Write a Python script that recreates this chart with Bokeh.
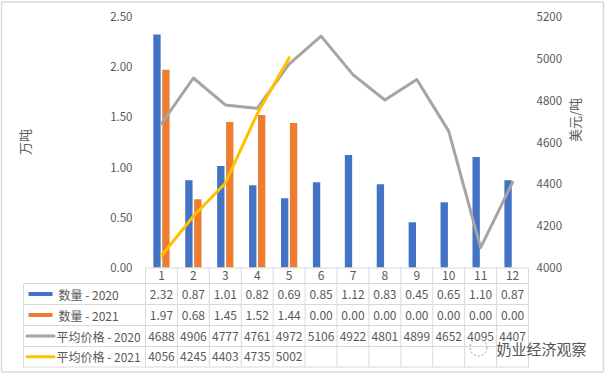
from bokeh.plotting import figure
from bokeh.models import Range1d, LinearAxis, FixedTicker, NumeralTickFormatter, ColumnDataSource
from bokeh.embed import file_html
from bokeh.resources import INLINE
from bokeh.core.properties import value
from bokeh.transform import dodge

# ---------------- data ----------------
months = [1, 2, 3, 4, 5, 6, 7, 8, 9, 10, 11, 12]
month_labels = ["1", "2", "3", "4", "5", "6", "7", "8", "9", "10", "11", "12"]
qty_2020 = [2.32, 0.87, 1.01, 0.82, 0.69, 0.85, 1.12, 0.83, 0.45, 0.65, 1.10, 0.87]
qty_2021 = [1.97, 0.68, 1.45, 1.52, 1.44, 0.00, 0.00, 0.00, 0.00, 0.00, 0.00, 0.00]
price_2020 = [4688, 4906, 4777, 4761, 4972, 5106, 4922, 4801, 4899, 4652, 4095, 4407]
price_2021 = [4056, 4245, 4403, 4735, 5002]
series_names = ["数量 - 2020", "数量 - 2021", "平均价格 - 2020", "平均价格 - 2021"]
left_ticks = [0.0, 0.5, 1.0, 1.5, 2.0, 2.5]
right_ticks = [4000, 4200, 4400, 4600, 4800, 5000, 5200]
left_title = "万吨"
right_title = "美元/吨"
watermark = "奶业经济观察"

# ---------------- styles / layout (page pixels) ----------------
BLUE, ORANGE, GRAY, YELLOW = "#4472C4", "#ED7D31", "#A5A5A5", "#FFC000"
TXT = "#595959"
GRID = "#D9D9D9"
FONT_NAME = "Noto Sans CJK SC"
FONT = value(FONT_NAME)
FIG_L, FIG_R, FIG_T, FIG_B = 0, 606, 0, 374
PL, PR, PT, PB = 145, 528, 16, 267       # plot area
CW = (PR - PL) / 12.0


def bx(page_x):
    return 0.5 + (page_x - PL) / CW

lpp = 2.5 / (PB - PT)          # left-axis units per pixel
rpp = 1200.0 / (PB - PT)       # right-axis units per pixel

p = figure(width=FIG_R - FIG_L, height=FIG_B - FIG_T,
           x_range=Range1d(bx(FIG_L), bx(FIG_R)),
           y_range=Range1d(0 - (FIG_B - PB) * lpp, 2.5 + (PT - FIG_T) * lpp),
           output_backend="svg", toolbar_location=None,
           x_axis_location=None, y_axis_location=None,
           min_border=0, outline_line_color=None)
p.grid.visible = False
p.extra_y_ranges = {
    "price": Range1d(4000 - (FIG_B - PB) * rpp, 5200 + (PT - FIG_T) * rpp),
    "tbl": Range1d(FIG_B, FIG_T),
}
p.extra_x_ranges = {"px": Range1d(FIG_L, FIG_R)}

ya = LinearAxis(fixed_location=0.5, ticker=FixedTicker(ticks=left_ticks),
                formatter=NumeralTickFormatter(format="0.00"), axis_label=left_title,
                bounds=(left_ticks[0], left_ticks[-1]))
ya2 = LinearAxis(y_range_name="price", fixed_location=12.5,
                 ticker=FixedTicker(ticks=right_ticks), axis_label=right_title,
                 bounds=(right_ticks[0], right_ticks[-1]))
p.add_layout(ya, "left")
p.add_layout(ya2, "right")

for ax, st, lst in [(ya, 13, 73), (ya2, 8, 9)]:
    ax.axis_line_color = None
    ax.major_tick_line_color = None
    ax.minor_tick_line_color = None
    ax.major_tick_out = 0
    ax.major_tick_in = 0
    ax.major_label_standoff = st
    ax.axis_label_standoff = lst
    ax.major_label_text_font = FONT_NAME
    ax.major_label_text_font_size = "11.5px"
    ax.major_label_text_color = TXT
    ax.axis_label_text_font = FONT_NAME
    ax.axis_label_text_font_size = "13px"
    ax.axis_label_text_font_style = "normal"
    ax.axis_label_text_color = TXT
ya2.axis_label_orientation = 1.5707963

# ---------------- outer chart border ----------------
p.segment(x0=[1, 1, 1, 603], y0=[1.5, 371.5, 1.5, 1.5], x1=[603, 603, 1, 603],
          y1=[1.5, 371.5, 371.5, 371.5], line_color=GRID, line_width=1.5,
          x_range_name="px", y_range_name="tbl")

# ---------------- bars and lines ----------------
src = ColumnDataSource(dict(m=months, q20=qty_2020, q21=qty_2021))
p.vbar(x=dodge("m", -0.14, range=p.x_range), top="q20", bottom=0, width=0.23, source=src,
       fill_color=BLUE, line_color=None)
p.vbar(x=dodge("m", 0.14, range=p.x_range), top="q21", bottom=0, width=0.23, source=src,
       fill_color=ORANGE, line_color=None)
p.line(months, price_2020, y_range_name="price", line_color=GRAY, line_width=3,
       line_join="round", line_cap="round")
p.line(months[:len(price_2021)], price_2021, y_range_name="price", line_color=YELLOW,
       line_width=3, line_join="round", line_cap="round")

# ---------------- data table (page-pixel ranges) ----------------
row_edges = [283, 304, 325, 346, 366.5]
col_edges = [PL + i * CW for i in range(13)]
TL = 23

hx0 = [PL] + [TL] * len(row_edges)
hx1 = [PR] * (len(row_edges) + 1)
hy = [PB + 0.5] + row_edges
p.segment(x0=hx0, y0=hy, x1=hx1, y1=hy, line_color=GRID, line_width=1,
          x_range_name="px", y_range_name="tbl")
vx = [TL] + col_edges
vy0 = [row_edges[0]] + [PB] * len(col_edges)
vy1 = [row_edges[-1]] * len(vx)
p.segment(x0=vx, y0=vy0, x1=vx, y1=vy1, line_color=GRID, line_width=1,
          x_range_name="px", y_range_name="tbl")

p.text(x=months, y=[(PB + row_edges[0]) / 2] * 12, text=month_labels, y_range_name="tbl",
       text_align="center", text_baseline="middle",
       text_font=FONT, text_font_size="12px", text_color=TXT)

rows = [
    [f"{v:.2f}" for v in qty_2020],
    [f"{v:.2f}" for v in qty_2021],
    [str(v) for v in price_2020],
    [str(v) for v in price_2021],
]
row_centers = [(row_edges[i] + row_edges[i + 1]) / 2 for i in range(4)]
for r, vals in enumerate(rows):
    p.text(x=months[:len(vals)], y=[row_centers[r]] * len(vals), text=vals, y_range_name="tbl",
           text_align="center", text_baseline="middle", text_font=FONT,
           text_font_size="12px", text_color=TXT)

key_colors = [BLUE, ORANGE, GRAY, YELLOW]
for r in range(4):
    yc = row_centers[r]
    if r < 2:
        p.segment(x0=[28], y0=[yc], x1=[52], y1=[yc], line_color=key_colors[r],
                  line_width=4, line_cap="butt", x_range_name="px", y_range_name="tbl")
        tx = 58
    else:
        p.segment(x0=[26.5], y0=[yc], x1=[53.5], y1=[yc], line_color=key_colors[r],
                  line_width=3, line_cap="round", x_range_name="px", y_range_name="tbl")
        tx = 56
    p.text(x=[tx], y=[yc], text=[series_names[r]], x_range_name="px", y_range_name="tbl",
           text_align="left", text_baseline="middle",
           text_font=FONT, text_font_size="12px", text_color=TXT)

# watermark
p.scatter(x=[478], y=[347], marker="circle", size=17, fill_color=None,
          line_color="#9A9A9A", line_dash="2 2", line_width=1,
          x_range_name="px", y_range_name="tbl")
p.text(x=[496], y=[348], text=[watermark], x_range_name="px", y_range_name="tbl",
       text_align="left", text_baseline="middle",
       text_font=FONT, text_font_size="15px", text_color="#555555")

open("out.html", "w").write(file_html(p, INLINE))
